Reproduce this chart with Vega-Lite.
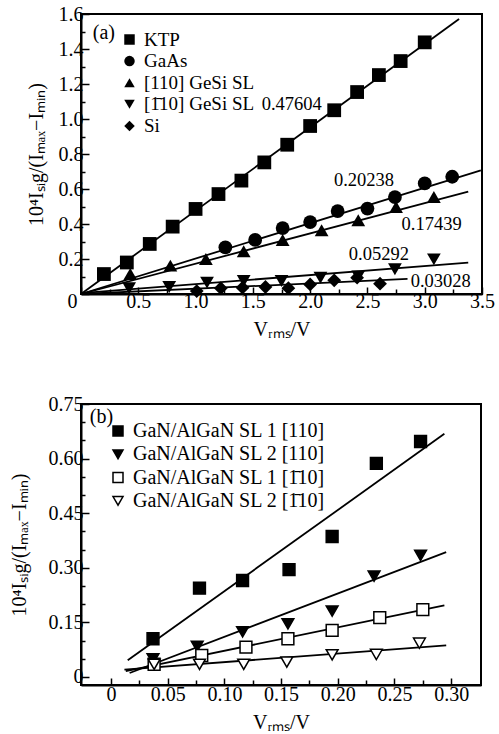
{
  "$schema": "https://vega.github.io/schema/vega-lite/v6.json",
  "background": "white",
  "padding": {"left": 7, "top": 3, "right": 10, "bottom": 5},
  "spacing": 110,
  "bounds": "flush",
  "config": {
    "font": "Liberation Serif",
    "view": {"stroke": "black", "strokeWidth": 2},
    "axis": {
      "labelFont": "Liberation Serif", "titleFont": "Liberation Serif",
      "labelFontSize": 20, "titleFontSize": 20, "titleFontWeight": "normal",
      "labelColor": "black", "titleColor": "black",
      "domainColor": "black", "domainWidth": 2,
      "tickColor": "black", "tickWidth": 1.5,
      "grid": false, "labelFlush": false, "labelOverlap": false
    },
    "legend": {
      "labelFont": "Liberation Serif", "labelColor": "black", "labelLimit": 400,
      "symbolStrokeWidth": 1.5
    },
    "text": {"font": "Liberation Serif", "color": "black"}
  },
  "vconcat": [
    {
      "width": 401,
      "height": 280,
      "encoding": {
        "x": {
          "field": "x", "type": "quantitative",
          "scale": {"domain": [0, 3.5], "nice": false, "zero": false},
          "axis": {
            "title": "Vᵣₘₛ/V",
            "values": [0, 0.25, 0.5, 0.75, 1, 1.25, 1.5, 1.75, 2, 2.25, 2.5, 2.75, 3, 3.25, 3.5],
            "labelExpr": "abs(datum.value*2-round(datum.value*2))<0.01 ? (datum.value==0 ? '0' : format(datum.value,'.1f')) : ''",
            "tickSize": {"condition": {"test": "abs(datum.value*2-round(datum.value*2))<0.01", "value": -7}, "value": -5},
            "labelOffset": {"condition": {"test": "datum.value==0", "value": -9}, "value": 0},
            "labelPadding": 4,
            "titlePadding": 6
          }
        },
        "y": {
          "field": "y", "type": "quantitative",
          "scale": {"domain": [0, 1.6], "nice": false, "zero": false},
          "axis": {
            "title": "10⁴Iₛᵢg/(Iₘₐₓ−Iₘᵢₙ)",
            "values": [0, 0.1, 0.2, 0.3, 0.4, 0.5, 0.6, 0.7, 0.8, 0.9, 1.0, 1.1, 1.2, 1.3, 1.4, 1.5, 1.6],
            "labelExpr": "datum.value > 0.01 && abs(datum.value*5-round(datum.value*5))<0.01 ? format(datum.value,'.1f') : ''",
            "tickSize": {"condition": {"test": "abs(datum.value*5-round(datum.value*5))<0.01", "value": -8}, "value": -4},
            "labelPadding": 6,
            "titleX": -39,
            "titleBaseline": "alphabetic"
          }
        }
      },
      "layer": [
        {
          "data": {"values": [
            {"series": "KTP", "x": 0, "y": 0}, {"series": "KTP", "x": 3.3, "y": 1.571},
            {"series": "GaAs", "x": 0, "y": 0}, {"series": "GaAs", "x": 3.49, "y": 0.707},
            {"series": "[110] GeSi SL", "x": 0, "y": 0}, {"series": "[110] GeSi SL", "x": 3.38, "y": 0.585},
            {"series": "[1̄10] GeSi SL", "x": 0, "y": 0.005}, {"series": "[1̄10] GeSi SL", "x": 3.38, "y": 0.179},
            {"series": "Si", "x": 0, "y": 0}, {"series": "Si", "x": 2.85, "y": 0.086}
          ]},
          "mark": {"type": "line", "color": "black", "strokeWidth": 1.8},
          "encoding": {"detail": {"field": "series", "type": "nominal"}}
        },
        {
          "data": {"values": [
            {"series": "KTP", "x": 0.2, "y": 0.114}, {"series": "KTP", "x": 0.4, "y": 0.18},
            {"series": "KTP", "x": 0.6, "y": 0.286}, {"series": "KTP", "x": 0.8, "y": 0.385},
            {"series": "KTP", "x": 1.0, "y": 0.486}, {"series": "KTP", "x": 1.2, "y": 0.571},
            {"series": "KTP", "x": 1.4, "y": 0.648}, {"series": "KTP", "x": 1.6, "y": 0.752},
            {"series": "KTP", "x": 1.8, "y": 0.853}, {"series": "KTP", "x": 2.0, "y": 0.96},
            {"series": "KTP", "x": 2.21, "y": 1.05}, {"series": "KTP", "x": 2.41, "y": 1.154},
            {"series": "KTP", "x": 2.6, "y": 1.251}, {"series": "KTP", "x": 2.79, "y": 1.331},
            {"series": "KTP", "x": 3.0, "y": 1.438},
            {"series": "GaAs", "x": 1.26, "y": 0.267}, {"series": "GaAs", "x": 1.52, "y": 0.309},
            {"series": "GaAs", "x": 1.76, "y": 0.377}, {"series": "GaAs", "x": 2.0, "y": 0.411},
            {"series": "GaAs", "x": 2.24, "y": 0.474}, {"series": "GaAs", "x": 2.5, "y": 0.488},
            {"series": "GaAs", "x": 2.74, "y": 0.554}, {"series": "GaAs", "x": 3.0, "y": 0.632},
            {"series": "GaAs", "x": 3.24, "y": 0.67},
            {"series": "[110] GeSi SL", "x": 0.43, "y": 0.114}, {"series": "[110] GeSi SL", "x": 0.78, "y": 0.162},
            {"series": "[110] GeSi SL", "x": 1.09, "y": 0.2}, {"series": "[110] GeSi SL", "x": 1.42, "y": 0.244},
            {"series": "[110] GeSi SL", "x": 1.76, "y": 0.309}, {"series": "[110] GeSi SL", "x": 2.1, "y": 0.364},
            {"series": "[110] GeSi SL", "x": 2.42, "y": 0.421}, {"series": "[110] GeSi SL", "x": 2.75, "y": 0.497},
            {"series": "[110] GeSi SL", "x": 3.08, "y": 0.554},
            {"series": "[1̄10] GeSi SL", "x": 0.42, "y": 0.033}, {"series": "[1̄10] GeSi SL", "x": 0.77, "y": 0.04},
            {"series": "[1̄10] GeSi SL", "x": 1.1, "y": 0.065}, {"series": "[1̄10] GeSi SL", "x": 1.42, "y": 0.074},
            {"series": "[1̄10] GeSi SL", "x": 1.75, "y": 0.074}, {"series": "[1̄10] GeSi SL", "x": 2.09, "y": 0.093},
            {"series": "[1̄10] GeSi SL", "x": 2.42, "y": 0.1}, {"series": "[1̄10] GeSi SL", "x": 2.74, "y": 0.141},
            {"series": "[1̄10] GeSi SL", "x": 3.08, "y": 0.198},
            {"series": "Si", "x": 1.01, "y": 0.017}, {"series": "Si", "x": 1.22, "y": 0.033},
            {"series": "Si", "x": 1.41, "y": 0.036}, {"series": "Si", "x": 1.61, "y": 0.04},
            {"series": "Si", "x": 1.81, "y": 0.033}, {"series": "Si", "x": 2.0, "y": 0.055},
            {"series": "Si", "x": 2.21, "y": 0.078}, {"series": "Si", "x": 2.41, "y": 0.093},
            {"series": "Si", "x": 2.61, "y": 0.059}
          ]},
          "mark": {"type": "point", "filled": true, "color": "black", "size": 190, "opacity": 1},
          "encoding": {
            "shape": {
              "field": "series", "type": "nominal",
              "scale": {
                "domain": ["KTP", "GaAs", "[110] GeSi SL", "[1̄10] GeSi SL", "Si"],
                "range": ["square", "circle", "triangle-up", "triangle-down", "diamond"]
              },
              "legend": {
                "title": null, "orient": "none", "legendX": 39, "legendY": 16,
                "labelFontSize": 19, "symbolSize": 110, "rowPadding": 1.6, "labelOffset": 5,
                "symbolFillColor": "black"
              }
            }
          }
        },
        {
          "data": {"values": [
            {"label": "0.47604", "x": 1.84, "y": 1.086},
            {"label": "0.20238", "x": 2.47, "y": 0.65},
            {"label": "0.17439", "x": 3.06, "y": 0.398},
            {"label": "0.05292", "x": 2.6, "y": 0.23},
            {"label": "0.03028", "x": 3.14, "y": 0.074}
          ]},
          "mark": {"type": "text", "fontSize": 18.5, "align": "center", "baseline": "middle"},
          "encoding": {"text": {"field": "label", "type": "nominal"}}
        },
        {
          "data": {"values": [{"label": "(a)", "x": 0.2, "y": 1.49}]},
          "mark": {"type": "text", "fontSize": 20, "align": "center", "baseline": "middle"},
          "encoding": {"text": {"field": "label", "type": "nominal"}}
        }
      ]
    },
    {
      "width": 400,
      "height": 281,
      "encoding": {
        "x": {
          "field": "x", "type": "quantitative",
          "scale": {"domain": [-0.0265, 0.3263], "nice": false, "zero": false},
          "axis": {
            "title": "Vᵣₘₛ/V",
            "values": [0, 0.025, 0.05, 0.075, 0.1, 0.125, 0.15, 0.175, 0.2, 0.225, 0.25, 0.275, 0.3],
            "labelExpr": "abs(datum.value*20-round(datum.value*20))<0.01 ? (datum.value==0 ? '0' : format(datum.value,'.2f')) : ''",
            "tickSize": {"condition": {"test": "abs(datum.value*20-round(datum.value*20))<0.01", "value": -7}, "value": -5},
            "labelPadding": 6,
            "titlePadding": 6
          }
        },
        "y": {
          "field": "y", "type": "quantitative",
          "scale": {"domain": [-0.022, 0.75], "nice": false, "zero": false},
          "axis": {
            "title": "10⁴Iₛᵢg/(Iₘₐₓ−Iₘᵢₙ)",
            "values": [0, 0.05, 0.1, 0.15, 0.2, 0.25, 0.3, 0.35, 0.4, 0.45, 0.5, 0.55, 0.6, 0.65, 0.7, 0.75],
            "labelExpr": "abs(datum.value/0.15-round(datum.value/0.15))<0.01 ? (datum.value==0 ? '0' : format(datum.value,'.2f')) : ''",
            "tickSize": {"condition": {"test": "abs(datum.value/0.15-round(datum.value/0.15))<0.01", "value": -8}, "value": -4},
            "labelPadding": 6,
            "titleX": -56,
            "titleBaseline": "alphabetic"
          }
        }
      },
      "layer": [
        {
          "data": {"values": [
            {"series": "GaN/AlGaN SL 1 [110]", "x": 0.0147, "y": 0.046}, {"series": "GaN/AlGaN SL 1 [110]", "x": 0.294, "y": 0.668},
            {"series": "GaN/AlGaN SL 2 [110]", "x": 0.0164, "y": 0.011}, {"series": "GaN/AlGaN SL 2 [110]", "x": 0.2956, "y": 0.343},
            {"series": "GaN/AlGaN SL 1 [1̄10]", "x": 0.013, "y": 0.016}, {"series": "GaN/AlGaN SL 1 [1̄10]", "x": 0.294, "y": 0.197},
            {"series": "GaN/AlGaN SL 2 [1̄10]", "x": 0.0118, "y": 0.02}, {"series": "GaN/AlGaN SL 2 [1̄10]", "x": 0.2956, "y": 0.087}
          ]},
          "mark": {"type": "line", "color": "black", "strokeWidth": 1.8},
          "encoding": {"detail": {"field": "series", "type": "nominal"}}
        },
        {
          "data": {"values": [
            {"series": "GaN/AlGaN SL 1 [110]", "x": 0.037, "y": 0.105}, {"series": "GaN/AlGaN SL 1 [110]", "x": 0.078, "y": 0.244},
            {"series": "GaN/AlGaN SL 1 [110]", "x": 0.116, "y": 0.265}, {"series": "GaN/AlGaN SL 1 [110]", "x": 0.157, "y": 0.295},
            {"series": "GaN/AlGaN SL 1 [110]", "x": 0.195, "y": 0.386}, {"series": "GaN/AlGaN SL 1 [110]", "x": 0.234, "y": 0.587},
            {"series": "GaN/AlGaN SL 1 [110]", "x": 0.273, "y": 0.647},
            {"series": "GaN/AlGaN SL 2 [110]", "x": 0.037, "y": 0.05}, {"series": "GaN/AlGaN SL 2 [110]", "x": 0.076, "y": 0.084},
            {"series": "GaN/AlGaN SL 2 [110]", "x": 0.116, "y": 0.124}, {"series": "GaN/AlGaN SL 2 [110]", "x": 0.156, "y": 0.146},
            {"series": "GaN/AlGaN SL 2 [110]", "x": 0.195, "y": 0.181}, {"series": "GaN/AlGaN SL 2 [110]", "x": 0.232, "y": 0.277},
            {"series": "GaN/AlGaN SL 2 [110]", "x": 0.273, "y": 0.334},
            {"series": "GaN/AlGaN SL 1 [1̄10]", "x": 0.038, "y": 0.035}, {"series": "GaN/AlGaN SL 1 [1̄10]", "x": 0.08, "y": 0.059},
            {"series": "GaN/AlGaN SL 1 [1̄10]", "x": 0.119, "y": 0.082}, {"series": "GaN/AlGaN SL 1 [1̄10]", "x": 0.156, "y": 0.105},
            {"series": "GaN/AlGaN SL 1 [1̄10]", "x": 0.195, "y": 0.128}, {"series": "GaN/AlGaN SL 1 [1̄10]", "x": 0.237, "y": 0.163},
            {"series": "GaN/AlGaN SL 1 [1̄10]", "x": 0.275, "y": 0.185},
            {"series": "GaN/AlGaN SL 2 [1̄10]", "x": 0.038, "y": 0.035}, {"series": "GaN/AlGaN SL 2 [1̄10]", "x": 0.078, "y": 0.035},
            {"series": "GaN/AlGaN SL 2 [1̄10]", "x": 0.117, "y": 0.035}, {"series": "GaN/AlGaN SL 2 [1̄10]", "x": 0.155, "y": 0.041},
            {"series": "GaN/AlGaN SL 2 [1̄10]", "x": 0.195, "y": 0.061}, {"series": "GaN/AlGaN SL 2 [1̄10]", "x": 0.234, "y": 0.062},
            {"series": "GaN/AlGaN SL 2 [1̄10]", "x": 0.272, "y": 0.093}
          ]},
          "mark": {"type": "point", "filled": true, "strokeWidth": 1.5, "size": 140, "opacity": 1},
          "encoding": {
            "shape": {
              "field": "series", "type": "nominal",
              "scale": {
                "domain": ["GaN/AlGaN SL 1 [110]", "GaN/AlGaN SL 2 [110]", "GaN/AlGaN SL 1 [1̄10]", "GaN/AlGaN SL 2 [1̄10]"],
                "range": ["square", "triangle-down", "square", "triangle-down"]
              },
              "legend": {
                "title": null, "orient": "none", "legendX": 27, "legendY": 17,
                "labelFontSize": 20, "symbolSize": 100, "rowPadding": 3.3, "labelOffset": 5, "labelLimit": 400
              }
            },
            "fill": {
              "field": "series", "type": "nominal",
              "scale": {
                "domain": ["GaN/AlGaN SL 1 [110]", "GaN/AlGaN SL 2 [110]", "GaN/AlGaN SL 1 [1̄10]", "GaN/AlGaN SL 2 [1̄10]"],
                "range": ["black", "black", "white", "white"]
              },
              "legend": {
                "title": null, "orient": "none", "legendX": 27, "legendY": 17,
                "labelFontSize": 20, "symbolSize": 100, "rowPadding": 3.3, "labelOffset": 5, "labelLimit": 400
              }
            },
            "stroke": {
              "field": "series", "type": "nominal",
              "scale": {
                "domain": ["GaN/AlGaN SL 1 [110]", "GaN/AlGaN SL 2 [110]", "GaN/AlGaN SL 1 [1̄10]", "GaN/AlGaN SL 2 [1̄10]"],
                "range": ["black", "black", "black", "black"]
              },
              "legend": {
                "title": null, "orient": "none", "legendX": 27, "legendY": 17,
                "labelFontSize": 20, "symbolSize": 100, "rowPadding": 3.3, "labelOffset": 5, "labelLimit": 400
              }
            }
          }
        },
        {
          "data": {"values": [{"label": "(b)", "x": -0.0084, "y": 0.715}]},
          "mark": {"type": "text", "fontSize": 20, "align": "center", "baseline": "middle"},
          "encoding": {"text": {"field": "label", "type": "nominal"}}
        }
      ]
    }
  ],
  "resolve": {
    "legend": {"shape": "independent", "fill": "independent", "stroke": "independent"},
    "scale": {"shape": "independent", "fill": "independent", "stroke": "independent"}
  }
}
